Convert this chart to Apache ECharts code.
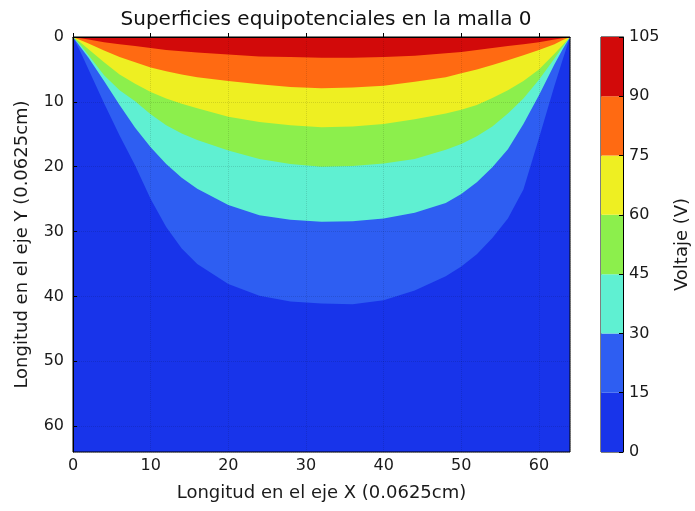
<!DOCTYPE html>
<html>
<head>
<meta charset="utf-8">
<script src="https://cdn.jsdelivr.net/npm/echarts@6/dist/echarts.min.js"></script>
<style>
  html, body { margin: 0; padding: 0; background: #ffffff; }
  #chart { width: 695px; height: 511px; }
</style>
</head>
<body>
<div id="chart"></div>
<script>
// Voltage levels of the filled contours (V)
const levels = [0, 15, 30, 45, 60, 75, 90, 105];

// Sample positions along the X axis (grid cells)
const xCells = [0, 1, 2, 4, 6, 8, 10, 12, 14, 16, 20, 24, 28, 32, 36, 40, 44, 48, 50, 52, 54, 56, 58, 60, 62, 63, 64];

// Depth (Y cells from the top edge) of each equipotential line at xCells
const depth15 = [0, 2.4, 5.0, 10.2, 15.2, 19.8, 25.0, 29.3, 32.6, 35.0, 38.1, 39.9, 40.8, 41.1, 41.2, 40.6, 39.1, 36.9, 35.4, 33.5, 31.0, 28.0, 23.5, 15.6, 7.5, 3.7, 0];
const depth30 = [0, 1.6, 3.2, 6.8, 10.5, 14.0, 17.0, 19.6, 21.7, 23.4, 25.9, 27.5, 28.2, 28.5, 28.4, 28.0, 27.1, 25.6, 24.2, 22.4, 20.1, 17.3, 13.4, 9.0, 4.2, 2.0, 0];
const depth45 = [0, 1.3, 2.8, 5.9, 8.2, 9.9, 11.9, 13.6, 14.9, 15.9, 17.5, 18.8, 19.6, 20.0, 19.9, 19.5, 18.8, 17.4, 16.5, 15.3, 13.8, 11.8, 9.5, 6.6, 3.3, 1.6, 0];
const depth60 = [0, 0.9, 1.9, 3.9, 5.8, 7.2, 8.5, 9.5, 10.3, 11.0, 12.3, 13.1, 13.6, 13.9, 13.8, 13.4, 12.7, 11.8, 11.2, 10.5, 9.4, 8.2, 6.8, 5.0, 2.6, 1.3, 0];
const depth75 = [0, 0.5, 1.0, 2.1, 3.1, 3.9, 4.7, 5.3, 5.8, 6.2, 6.8, 7.3, 7.7, 7.9, 7.8, 7.5, 6.9, 6.2, 5.6, 5.0, 4.3, 3.6, 2.8, 2.0, 1.1, 0.5, 0];
const depth90 = [0, 0.2, 0.4, 0.8, 1.1, 1.4, 1.7, 2.0, 2.2, 2.4, 2.7, 3.0, 3.1, 3.2, 3.2, 3.1, 2.9, 2.5, 2.3, 2.0, 1.7, 1.4, 1.1, 0.8, 0.4, 0.2, 0];

// Colour of each band, from the lowest level to the highest
const bandColors = ['#1834ea', '#2e5ef2', '#5ff0d2', '#8cef4c', '#eeef22', '#ff6a12', '#d20a0a'];

const contourDepths = [depth15, depth30, depth45, depth60, depth75, depth90];

const font = 'DejaVu Sans';
const textColor = '#1a1a1a';
const tickSize = 16;
const nameSize = 18;

// One filled area per equipotential line: everything above the line is >= that level
const contourSeries = contourDepths.map(function (depths, i) {
  return {
    type: 'line',
    name: levels[i + 1] + ' V',
    xAxisIndex: 0,
    yAxisIndex: 0,
    data: xCells.map(function (x, k) { return [x, depths[k]]; }),
    smooth: false,
    showSymbol: false,
    silent: true,
    lineStyle: { width: 0 },
    areaStyle: { origin: 'start', color: bandColors[i + 1], opacity: 1 },
    z: 2 + i
  };
});

// Colour bar: stacked blocks, one per band
const colorbarSeries = bandColors.map(function (c, i) {
  return {
    type: 'bar',
    xAxisIndex: 1,
    yAxisIndex: 1,
    stack: 'colorbar',
    barWidth: '100%',
    silent: true,
    data: [levels[i + 1] - levels[i]],
    itemStyle: { color: c }
  };
});

const chart = echarts.init(document.getElementById('chart'), null, { renderer: 'canvas' });

chart.setOption({
  animation: false,
  backgroundColor: '#ffffff',
  title: {
    text: 'Superficies equipotenciales en la malla 0',
    left: 321,
    top: 5,
    textAlign: 'center',
    textStyle: { fontFamily: font, fontSize: 20, fontWeight: 'normal', color: '#111' }
  },
  grid: [
    {
      left: 73, top: 37, width: 497, height: 415,
      show: true, backgroundColor: bandColors[0],
      borderColor: '#000', borderWidth: 1
    },
    {
      left: 601, top: 37, width: 22, height: 415,
      show: true, backgroundColor: 'transparent',
      borderColor: '#000', borderWidth: 1
    }
  ],
  xAxis: [
    {
      type: 'value', gridIndex: 0, min: 0, max: 64, interval: 10,
      name: 'Longitud en el eje X (0.0625cm)',
      nameLocation: 'middle', nameGap: 32,
      nameTextStyle: { fontFamily: font, fontSize: nameSize, color: textColor },
      axisLine: { show: true, lineStyle: { color: '#000', width: 1 } },
      axisTick: { show: true, inside: true, length: 4, lineStyle: { color: '#000' } },
      axisLabel: { fontFamily: font, fontSize: tickSize, color: textColor, margin: 6, showMaxLabel: false },
      splitLine: { show: true, lineStyle: { color: 'rgba(0,0,0,0.12)', type: 'dotted', width: 1 } },
      z: 20
    },
    {
      type: 'category', gridIndex: 1, data: [''],
      axisLine: { show: false }, axisTick: { show: false }, axisLabel: { show: false },
      splitLine: { show: false }
    }
  ],
  yAxis: [
    {
      type: 'value', gridIndex: 0, min: 0, max: 64, interval: 10, inverse: true,
      name: 'Longitud en el eje Y (0.0625cm)',
      nameLocation: 'middle', nameGap: 42,
      nameTextStyle: { fontFamily: font, fontSize: nameSize, color: textColor },
      axisLine: { show: true, lineStyle: { color: '#000', width: 1 } },
      axisTick: { show: true, inside: true, length: 4, lineStyle: { color: '#000' } },
      axisLabel: { fontFamily: font, fontSize: tickSize, color: textColor, margin: 9, showMaxLabel: false },
      splitLine: { show: true, lineStyle: { color: 'rgba(0,0,0,0.12)', type: 'dotted', width: 1 } },
      z: 20
    },
    {
      type: 'value', gridIndex: 1, min: 0, max: 105, interval: 15, position: 'right',
      name: 'Voltaje (V)',
      nameLocation: 'middle', nameGap: 50,
      nameTextStyle: { fontFamily: font, fontSize: nameSize, color: textColor },
      axisLine: { show: true, lineStyle: { color: '#000', width: 1 } },
      axisTick: { show: true, inside: true, length: 4, lineStyle: { color: '#000' } },
      axisLabel: { fontFamily: font, fontSize: tickSize, color: textColor, margin: 6 },
      splitLine: { show: false },
      z: 20
    }
  ],
  series: contourSeries.concat(colorbarSeries)
});
</script>
</body>
</html>
